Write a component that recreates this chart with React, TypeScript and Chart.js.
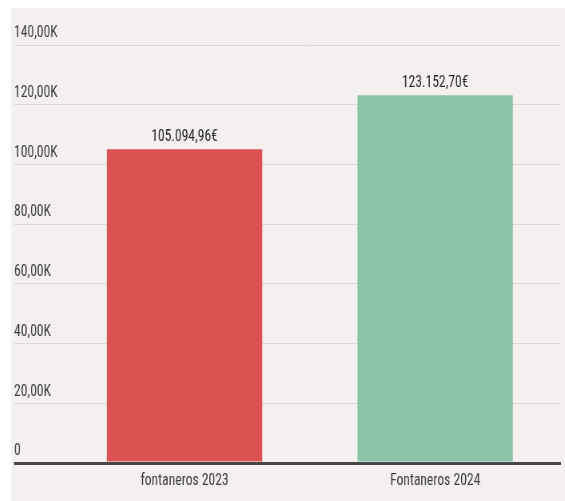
import { useEffect, useRef } from 'react';
import { Chart, registerables } from 'chart.js';

Chart.register(...registerables);

const categories = ['fontaneros 2023', 'Fontaneros 2024'];
const values = [105094.96, 123152.7];
const valueLabels = ['105.094,96€', '123.152,70€'];
const barColors = ['#dc5253', '#8cc3a7'];
const yTickValues = [0, 20000, 40000, 60000, 80000, 100000, 120000, 140000];
const yTickLabels = ['0', '20,00K', '40,00K', '60,00K', '80,00K', '100,00K', '120,00K', '140,00K'];

const FONT = '"Roboto Condensed", Roboto, sans-serif';
// the reference is horizontally squeezed; draw wider and compress with CSS
const SQUEEZE = 0.8;
const CSS_W = 554;
const CSS_H = 493;
const CANVAS_W = Math.round(CSS_W / SQUEEZE);
const sx = (v: number) => v / SQUEEZE;

const valueLabelPlugin = {
  id: 'valueLabels',
  afterDatasetsDraw(chart: any) {
    const ctx = chart.ctx;
    const meta = chart.getDatasetMeta(0);
    ctx.save();
    ctx.font = `17px ${FONT}`;
    ctx.fillStyle = '#2a2a2a';
    ctx.textAlign = 'center';
    ctx.textBaseline = 'alphabetic';
    meta.data.forEach((el: any, i: number) => {
      ctx.fillText(valueLabels[i], el.x, el.y - 8);
    });
    ctx.restore();
  },
};

export default function App() {
  const ref = useRef<HTMLCanvasElement>(null);
  useEffect(() => {
    if (!ref.current) return;
    const chart = new Chart(ref.current, {
      type: 'bar',
      data: {
        labels: categories,
        datasets: [
          {
            data: values,
            backgroundColor: barColors,
            barPercentage: 0.62,
            categoryPercentage: 1,
          },
        ],
      },
      options: {
        responsive: false,
        animation: false,
        devicePixelRatio: 1,
        layout: { padding: { left: sx(3), right: sx(4.5), top: 37, bottom: 0 } },
        plugins: { legend: { display: false }, tooltip: { enabled: false } },
        scales: {
          x: {
            z: 1,
            grid: { display: false, drawTicks: false },
            border: { display: true, color: '#474747', width: 3 },
            ticks: { color: '#3d3d3d', font: { family: FONT, size: 17 }, padding: 8 },
            afterFit: (s: any) => {
              s.height = 38;
            },
          },
          y: {
            min: 0,
            max: 140000,
            afterBuildTicks: (s: any) => {
              s.ticks = yTickValues.map((v) => ({ value: v }));
            },
            ticks: {
              callback: (v: any) => yTickLabels[yTickValues.indexOf(Number(v))],
              mirror: true,
              crossAlign: 'near',
              labelOffset: -12,
              padding: -sx(45.25),
              color: '#3d3d3d',
              font: { family: FONT, size: 17 },
            },
            grid: {
              color: (c: any) => (c.tick && c.tick.value === 0 ? '#474747' : '#dcd9d8'),
              lineWidth: (c: any) => (c.tick && c.tick.value === 0 ? 3 : 1),
              tickLength: sx(45.25),
            },
            border: { display: false },
            afterFit: (s: any) => {
              s.width = sx(45.25);
            },
          },
        },
      },
      plugins: [valueLabelPlugin],
    } as any);
    return () => chart.destroy();
  }, []);
  return (
    <div style={{ position: 'absolute', left: 11, top: 8, width: CSS_W, height: CSS_H, background: '#f3f0ef' }}>
      <canvas
        ref={ref}
        width={CANVAS_W}
        height={CSS_H}
        style={{ display: 'block', width: CSS_W, height: CSS_H }}
      />
    </div>
  );
}
